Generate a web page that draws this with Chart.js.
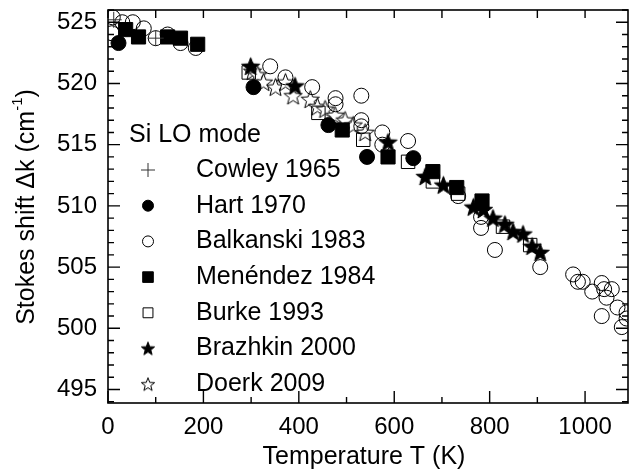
<!DOCTYPE html>
<html>
<head>
<meta charset="utf-8">
<script src="https://cdn.jsdelivr.net/npm/chart.js@4/dist/chart.umd.min.js"></script>
<style>
  html, body { margin: 0; padding: 0; background: #fff; }
  #wrap { width: 629px; height: 475px; }
</style>
</head>
<body>
<div id="wrap"><canvas id="ramanChart" width="629" height="475"></canvas></div>
<script>
// Si LO phonon Raman shift vs temperature, several published data sets
const cowleyT = [12, 100];
const cowleyK = [525.2, 523.7];

const hartT = [22, 305, 462, 543, 640];
const hartK = [523.3, 519.7, 516.6, 514.0, 513.9];

const balkanskiT = [8, 10, 30, 52, 75, 100, 125, 152, 184, 340, 372, 428, 477, 477, 531, 531, 531, 575, 575, 629, 734, 782, 782, 811, 906, 975, 985, 995, 1015, 1035, 1040, 1056, 1045, 1035, 1068, 1087, 1077, 1087];
const balkanskiK = [524.1, 525.4, 525.0, 525.0, 524.5, 523.7, 524.0, 523.3, 522.9, 521.4, 520.5, 519.7, 518.8, 518.3, 519.0, 517.0, 516.5, 516.0, 515.0, 515.3, 510.8, 509.1, 508.2, 506.4, 505.0, 504.4, 503.8, 503.8, 503.0, 503.7, 503.2, 503.2, 502.5, 501.0, 501.7, 501.3, 500.1, 500.8];

const menendezT = [37, 64, 125, 152, 188, 491, 587, 681, 731, 784];
const menendezK = [524.4, 523.8, 523.8, 523.7, 523.2, 516.2, 514.0, 512.8, 511.5, 510.4];

const burkeT = [295, 441, 535, 629, 681, 734, 828, 885];
const burkeK = [520.9, 517.6, 515.4, 513.6, 512.0, 511.0, 508.3, 506.8];

const brazhkinT = [299, 392, 587, 665, 703, 766, 787, 807, 832, 849, 870, 889, 906];
const brazhkinK = [521.4, 519.8, 515.2, 512.4, 511.7, 509.9, 509.7, 509.0, 508.5, 507.9, 507.7, 506.7, 506.2];

const doerkT = [303, 314, 326, 351, 372, 388, 424, 439, 455, 476, 497, 514, 539];
const doerkK = [521.0, 520.7, 520.1, 519.7, 520.1, 519.0, 518.7, 518.1, 517.9, 517.4, 517.0, 516.6, 516.0];

const seriesNames = ["Cowley 1965", "Hart 1970", "Balkanski 1983", "Menéndez 1984", "Burke 1993", "Brazhkin 2000", "Doerk 2009"];
const legendTitle = "Si LO mode";

const xTitle = "Temperature T (K)";
const yTitleMain = "Stokes shift Δk (cm";
const yTitleSup = "-1";

const FONT = "'Liberation Sans', Arial, sans-serif";

// five-pointed star as an image, Chart.js' own 'star' is an asterisk
function starImage(r, filled) {
  const size = Math.ceil(2 * r + 4);
  const c = document.createElement("canvas");
  c.width = size;
  c.height = size;
  const g = c.getContext("2d");
  const cx = size / 2, cy = size / 2 + r * 0.08;
  g.beginPath();
  for (let i = 0; i < 10; i++) {
    const rad = i % 2 === 0 ? r : r * 0.42;
    const a = -Math.PI / 2 + i * Math.PI / 5;
    const px = cx + rad * Math.cos(a), py = cy + rad * Math.sin(a);
    if (i === 0) g.moveTo(px, py); else g.lineTo(px, py);
  }
  g.closePath();
  g.fillStyle = filled ? "#000" : "#fff";
  g.fill();
  g.lineWidth = 1;
  g.strokeStyle = "#000";
  g.stroke();
  return c;
}

const toPoints = (xs, ys) => xs.map((x, i) => ({ x, y: ys[i] }));

const markerStyles = [
  { pointStyle: "cross", radius: 8, border: "#333", fill: "#333", borderWidth: 1, lRadius: 7 },
  { pointStyle: "circle", radius: 7.5, border: "#000", fill: "#000", borderWidth: 1, lRadius: 5.5 },
  { pointStyle: "circle", radius: 7.5, border: "#000", fill: "rgba(0,0,0,0)", borderWidth: 1, lRadius: 5.5 },
  { pointStyle: "rect", radius: 10, border: "#000", fill: "#000", borderWidth: 1, lRadius: 7.5 },
  { pointStyle: "rect", radius: 9.5, border: "#000", fill: "rgba(0,0,0,0)", borderWidth: 1, lRadius: 7 },
  { pointStyle: starImage(9.5, true), radius: 9, border: "#000", fill: "#000", borderWidth: 1, legendImg: starImage(7, true) },
  { pointStyle: starImage(9.5, false), radius: 9, border: "#000", fill: "#fff", borderWidth: 1, legendImg: starImage(7, false) }
];

const seriesData = [
  toPoints(cowleyT, cowleyK),
  toPoints(hartT, hartK),
  toPoints(balkanskiT, balkanskiK),
  toPoints(menendezT, menendezK),
  toPoints(burkeT, burkeK),
  toPoints(brazhkinT, brazhkinK),
  toPoints(doerkT, doerkK)
];

const datasets = seriesData.map((data, i) => {
  const m = markerStyles[i];
  return {
    label: seriesNames[i],
    data,
    showLine: false,
    pointStyle: m.pointStyle,
    pointRadius: m.radius,
    pointHoverRadius: m.radius,
    pointBorderColor: m.border,
    pointBackgroundColor: m.fill,
    pointBorderWidth: m.borderWidth
  };
});

// frame, inward ticks on all four sides, axis titles and the legend box
const framePlugin = {
  id: "frameAndLegend",
  afterDraw(chart) {
    const { ctx, chartArea: a, scales } = chart;
    const xs = scales.x, ys = scales.y;
    ctx.save();
    ctx.strokeStyle = "#000";
    ctx.lineWidth = 1.6;
    ctx.strokeRect(a.left, a.top, a.right - a.left, a.bottom - a.top);

    ctx.lineWidth = 1.4;
    ctx.beginPath();
    for (let t = 0; t <= xs.max; t += 100) {
      const px = xs.getPixelForValue(t);
      const len = t % 200 === 0 ? 12 : 6;
      ctx.moveTo(px, a.bottom);
      ctx.lineTo(px, a.bottom - len);
      ctx.moveTo(px, a.top);
      ctx.lineTo(px, a.top + 8);
    }
    for (let v = Math.ceil(ys.min); v <= ys.max; v += 1) {
      const py = ys.getPixelForValue(v);
      const len = v % 5 === 0 ? 12 : 6;
      ctx.moveTo(a.left, py);
      ctx.lineTo(a.left + len, py);
      ctx.moveTo(a.right, py);
      ctx.lineTo(a.right - len, py);
    }
    ctx.stroke();

    // axis titles
    ctx.fillStyle = "#000";
    ctx.font = "25px " + FONT;
    ctx.textAlign = "center";
    ctx.textBaseline = "middle";
    ctx.fillText(xTitle, 364, 457);

    ctx.save();
    ctx.translate(27, 207);
    ctx.rotate(-Math.PI / 2);
    ctx.font = "25px " + FONT;
    const wMain = ctx.measureText(yTitleMain).width;
    ctx.font = "15px " + FONT;
    const wSup = ctx.measureText(yTitleSup).width;
    ctx.font = "25px " + FONT;
    const wClose = ctx.measureText(")").width;
    let x0 = -(wMain + wSup + wClose) / 2;
    ctx.textAlign = "left";
    ctx.fillText(yTitleMain, x0, 0);
    ctx.font = "15px " + FONT;
    ctx.fillText(yTitleSup, x0 + wMain, -9);
    ctx.font = "25px " + FONT;
    ctx.fillText(")", x0 + wMain + wSup, 0);
    ctx.restore();

    // legend
    ctx.textAlign = "left";
    ctx.textBaseline = "middle";
    ctx.font = "25px " + FONT;
    ctx.fillText(legendTitle, 129, 135);
    const rowY0 = 170, rowStep = 35.7, markX = 148, textX = 196;
    seriesNames.forEach((name, i) => {
      const y = rowY0 + i * rowStep;
      const m = markerStyles[i];
      if (m.legendImg) {
        ctx.drawImage(m.legendImg, markX - m.legendImg.width / 2, y - m.legendImg.height / 2);
      } else {
        ctx.strokeStyle = m.border;
        ctx.fillStyle = m.fill;
        ctx.lineWidth = m.borderWidth;
        Chart.helpers.drawPoint(ctx, { pointStyle: m.pointStyle, radius: m.lRadius, rotation: 0, borderWidth: m.borderWidth }, markX, y);
      }
      ctx.fillStyle = "#000";
      ctx.fillText(name, textX, y);
    });
    ctx.restore();
  }
};

new Chart(document.getElementById("ramanChart"), {
  type: "scatter",
  data: { datasets },
  options: {
    responsive: false,
    animation: false,
    layout: { autoPadding: false, padding: { top: 10, right: 1, left: 0, bottom: 0 } },
    plugins: {
      legend: { display: false },
      tooltip: { enabled: false }
    },
    scales: {
      x: {
        type: "linear",
        min: 0,
        max: 1090,
        grid: { display: false, drawTicks: false },
        border: { display: false },
        ticks: {
          stepSize: 200,
          includeBounds: false,
          color: "#000",
          padding: 10,
          maxRotation: 0,
          font: { family: FONT, size: 24 },
          callback: v => String(v)
        },
        afterFit: s => {
          s.height = 72;
          s.paddingLeft = 0;
          s.paddingRight = 0;
        }
      },
      y: {
        type: "linear",
        min: 493.9,
        max: 526,
        grid: { display: false, drawTicks: false },
        border: { display: false },
        ticks: {
          stepSize: 5,
          includeBounds: false,
          color: "#000",
          padding: 11,
          font: { family: FONT, size: 24 }
        },
        afterFit: s => {
          s.width = 108;
          s.paddingTop = 0;
          s.paddingBottom = 0;
        }
      }
    }
  },
  plugins: [framePlugin]
});
</script>
</body>
</html>
